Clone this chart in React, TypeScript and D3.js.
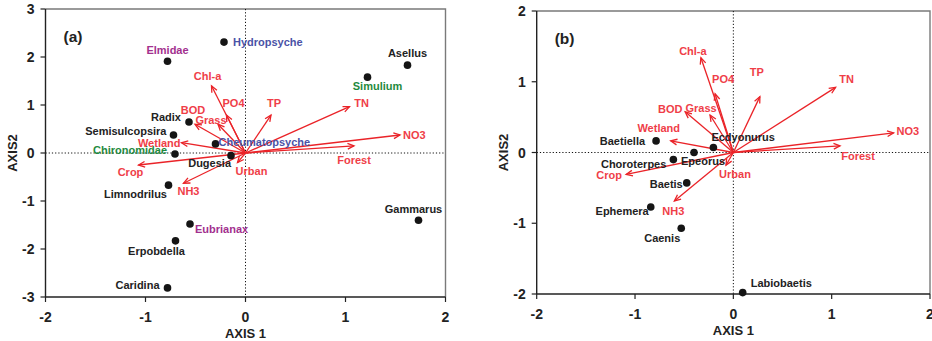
import React from "react";
import * as d3 from "d3";

// axis ticks
const xTicks = [-2, -1, 0, 1, 2];
const yTicksA = [-3, -2, -1, 0, 1, 2, 3];
const yTicksB = [-2, -1, 0, 1, 2];

// (a) species scores
const speciesA = [
  { name: "Hydropsyche", x: -0.215, y: 2.31 },
  { name: "Elmidae", x: -0.78, y: 1.91 },
  { name: "Radix", x: -0.565, y: 0.646 },
  { name: "Semisulcopsira", x: -0.72, y: 0.375 },
  { name: "Chironomidae", x: -0.705, y: -0.02 },
  { name: "Cheumatopsyche", x: -0.3, y: 0.19 },
  { name: "Dugesia", x: -0.145, y: -0.055 },
  { name: "Asellus", x: 1.62, y: 1.83 },
  { name: "Simulium", x: 1.22, y: 1.58 },
  { name: "Limnodrilus", x: -0.77, y: -0.67 },
  { name: "Eubrianax", x: -0.555, y: -1.48 },
  { name: "Erpobdella", x: -0.7, y: -1.83 },
  { name: "Caridina", x: -0.78, y: -2.81 },
  { name: "Gammarus", x: 1.73, y: -1.4 },
];

// (a) environmental vectors
const envA = [
  { name: "Chl-a", x: -0.34, y: 1.4 },
  { name: "PO4", x: -0.19, y: 0.79 },
  { name: "BOD", x: -0.505, y: 0.6 },
  { name: "Grass", x: -0.275, y: 0.6 },
  { name: "TP", x: 0.255, y: 0.79 },
  { name: "TN", x: 1.04, y: 0.965 },
  { name: "NO3", x: 1.545, y: 0.375 },
  { name: "Forest", x: 1.085, y: 0.15 },
  { name: "Wetland", x: -0.64, y: 0.215 },
  { name: "Crop", x: -1.07, y: -0.25 },
  { name: "NH3", x: -0.62, y: -0.63 },
  { name: "Urban", x: -0.08, y: -0.2 },
];

// (b) species scores
const speciesB = [
  { name: "Baetiella", x: -0.786, y: 0.164 },
  { name: "Choroterpes", x: -0.61, y: -0.1 },
  { name: "Epeorus", x: -0.4, y: 0.0 },
  { name: "Ecdyonurus", x: -0.203, y: 0.07 },
  { name: "Baetis", x: -0.474, y: -0.43 },
  { name: "Ephemera", x: -0.84, y: -0.77 },
  { name: "Caenis", x: -0.53, y: -1.07 },
  { name: "Labiobaetis", x: 0.095, y: -1.98 },
];

// (b) environmental vectors
const envB = [
  { name: "Chl-a", x: -0.33, y: 1.34 },
  { name: "PO4", x: -0.186, y: 0.83 },
  { name: "TP", x: 0.27, y: 0.79 },
  { name: "TN", x: 1.04, y: 0.92 },
  { name: "NO3", x: 1.63, y: 0.277 },
  { name: "Forest", x: 1.085, y: 0.094 },
  { name: "Grass", x: -0.237, y: 0.53 },
  { name: "BOD", x: -0.49, y: 0.575 },
  { name: "Wetland", x: -0.637, y: 0.164 },
  { name: "Crop", x: -1.09, y: -0.31 },
  { name: "NH3", x: -0.6, y: -0.685 },
  { name: "Urban", x: -0.075, y: -0.18 },
];

// label placement: [dx, dy, anchor] in px from the mark
type Place = Record<string, [number, number, string]>;
const placeSpA: Place = {
  Hydropsyche: [9, 0, "start"],
  Elmidae: [0, -11, "middle"],
  Radix: [-8, -5, "end"],
  Semisulcopsira: [-7, -3.5, "end"],
  Chironomidae: [-8, -3.5, "end"],
  Cheumatopsyche: [3, -2, "start"],
  Dugesia: [0, 7, "end"],
  Asellus: [0, -12, "middle"],
  Simulium: [10, 9, "middle"],
  Limnodrilus: [-1.5, 9, "end"],
  Eubrianax: [5, 5, "start"],
  Erpobdella: [-19, 10, "middle"],
  Caridina: [-8, -3, "end"],
  Gammarus: [-5, -11, "middle"],
};
const placeEnvA: Place = {
  "Chl-a": [-4, -10, "middle"],
  PO4: [7, -12, "middle"],
  BOD: [-2, -14, "middle"],
  Grass: [-7, -4, "middle"],
  TP: [3, -12, "middle"],
  TN: [12, -4, "middle"],
  NO3: [3, 0, "start"],
  Forest: [0, 14, "middle"],
  Wetland: [-1, 0, "end"],
  Crop: [-8, 7, "middle"],
  NH3: [5, 8, "middle"],
  Urban: [14, 8, "middle"],
};
const placeSpB: Place = {
  Baetiella: [-11, 0, "end"],
  Choroterpes: [-7, 4, "end"],
  Epeorus: [9, 9, "middle"],
  Ecdyonurus: [-2, -11, "start"],
  Baetis: [-4, 1, "end"],
  Ephemera: [-2, 4, "end"],
  Caenis: [-19, 10, "middle"],
  Labiobaetis: [8, -10, "start"],
};
const placeEnvB: Place = {
  "Chl-a": [-8, -7, "middle"],
  PO4: [8, -15, "middle"],
  TP: [-3, -25, "middle"],
  TN: [11, -8, "middle"],
  NO3: [3, -2, "start"],
  Forest: [18, 10, "middle"],
  Grass: [-9, -7, "middle"],
  BOD: [-15, -3, "middle"],
  Wetland: [-12, -13, "middle"],
  Crop: [-17, 1, "middle"],
  NH3: [-1, 10, "middle"],
  Urban: [9, 9, "middle"],
};

const speciesColor: Record<string, string> = {
  Elmidae: "#a2308e",
  Eubrianax: "#a2308e",
  Hydropsyche: "#4a52a6",
  Cheumatopsyche: "#4a52a6",
  Simulium: "#1f8a3e",
  Chironomidae: "#1f8a3e",
};

const font = "'Liberation Sans', Arial, sans-serif";
const arrowRed = "#ea2328";
const labelRed = "#ef3e48";

type Frame = { left: number; right: number; top: number; bottom: number };

function Panel({
  frame,
  yDomain,
  yTicks,
  species,
  env,
  placeSp,
  placeEnv,
  tag,
}: {
  frame: Frame;
  yDomain: [number, number];
  yTicks: number[];
  species: { name: string; x: number; y: number }[];
  env: { name: string; x: number; y: number }[];
  placeSp: Place;
  placeEnv: Place;
  tag: string;
}) {
  const x = d3.scaleLinear().domain([-2, 2]).range([frame.left, frame.right]);
  const y = d3.scaleLinear().domain(yDomain).range([frame.bottom, frame.top]);
  const x0 = x(0);
  const y0 = y(0);

  const head = (hx: number, hy: number) => {
    const a = Math.atan2(hy - y0, hx - x0);
    const L = 7;
    const s = 0.42;
    const p1 = [hx - L * Math.cos(a - s), hy - L * Math.sin(a - s)];
    const p2 = [hx - L * Math.cos(a + s), hy - L * Math.sin(a + s)];
    return `M${p1[0]},${p1[1]}L${hx},${hy}L${p2[0]},${p2[1]}`;
  };

  return (
    <g fontFamily={font} fontWeight="bold">
      {/* frame: gray top/right */}
      <path
        d={`M${frame.left},${frame.top}H${frame.right}V${frame.bottom}`}
        fill="none"
        stroke="#7a7a7a"
        strokeWidth={1.4}
      />
      {/* zero lines */}
      <line x1={frame.left} x2={frame.right} y1={y0} y2={y0} stroke="#111" strokeWidth={1} strokeDasharray="1.2,2" />
      <line x1={x0} x2={x0} y1={frame.top} y2={frame.bottom} stroke="#111" strokeWidth={1} strokeDasharray="1.2,2" />

      {/* axes */}
      <line x1={frame.left} x2={frame.left} y1={frame.top} y2={frame.bottom} stroke="#222" strokeWidth={1.4} />
      <line x1={frame.left} x2={frame.right} y1={frame.bottom} y2={frame.bottom} stroke="#222" strokeWidth={1.4} />
      {yTicks.map((t) => (
        <g key={"y" + t}>
          <line x1={frame.left - 5} x2={frame.left} y1={y(t)} y2={y(t)} stroke="#222" strokeWidth={1.2} />
          <text x={frame.left - 11} y={y(t)} dy="0.36em" textAnchor="end" fontSize={14} fill="#222">
            {t}
          </text>
        </g>
      ))}
      {xTicks.map((t) => (
        <g key={"x" + t}>
          <line x1={x(t)} x2={x(t)} y1={frame.bottom} y2={frame.bottom + 5} stroke="#222" strokeWidth={1.2} />
          <text x={x(t)} y={frame.bottom + 19.5} dy="0.36em" textAnchor="middle" fontSize={14} fill="#222">
            {t}
          </text>
        </g>
      ))}
      <text x={x(0)} y={frame.bottom + 36} dy="0.36em" textAnchor="middle" fontSize={13} fill="#222">
        AXIS 1
      </text>
      <text
        transform={`translate(${frame.left - 33},${(frame.top + frame.bottom) / 2}) rotate(-90)`}
        dy="0.36em"
        textAnchor="middle"
        fontSize={13}
        fill="#222"
      >
        AXIS2
      </text>
      <text x={frame.left + 18} y={frame.top + 27} dy="0.36em" fontSize={15.5} fill="#222">
        {tag}
      </text>

      {/* environmental arrows */}
      {env.map((d) => {
        const hx = x(d.x);
        const hy = y(d.y);
        return (
          <g key={"e" + d.name}>
            <line x1={x0} y1={y0} x2={hx} y2={hy} stroke={arrowRed} strokeWidth={1.3} />
            <path d={head(hx, hy)} fill="none" stroke={arrowRed} strokeWidth={1.3} />
          </g>
        );
      })}
      {env.map((d) => {
        const [dx, dy, anchor] = placeEnv[d.name];
        return (
          <text
            key={"el" + d.name}
            x={x(d.x) + dx}
            y={y(d.y) + dy}
            dy="0.36em"
            textAnchor={anchor}
            fontSize={11}
            fill={labelRed}
          >
            {d.name}
          </text>
        );
      })}

      {/* species points */}
      {species.map((d) => (
        <circle key={"s" + d.name} cx={x(d.x)} cy={y(d.y)} r={3.8} fill="#151515" />
      ))}
      {species.map((d) => {
        const [dx, dy, anchor] = placeSp[d.name];
        return (
          <text
            key={"sl" + d.name}
            x={x(d.x) + dx}
            y={y(d.y) + dy}
            dy="0.36em"
            textAnchor={anchor}
            fontSize={11}
            fill={speciesColor[d.name] || "#222"}
          >
            {d.name}
          </text>
        );
      })}
    </g>
  );
}

export default function App() {
  return (
    <svg
      width={932}
      height={341}
      style={{ position: "absolute", left: 0, top: 0, background: "#fff" }}
    >
      <Panel
        frame={{ left: 45.5, right: 445.5, top: 9, bottom: 297 }}
        yDomain={[-3, 3]}
        yTicks={yTicksA}
        species={speciesA}
        env={envA}
        placeSp={placeSpA}
        placeEnv={placeEnvA}
        tag="(a)"
      />
      <Panel
        frame={{ left: 536.7, right: 930, top: 11, bottom: 294 }}
        yDomain={[-2, 2]}
        yTicks={yTicksB}
        species={speciesB}
        env={envB}
        placeSp={placeSpB}
        placeEnv={placeEnvB}
        tag="(b)"
      />
    </svg>
  );
}
